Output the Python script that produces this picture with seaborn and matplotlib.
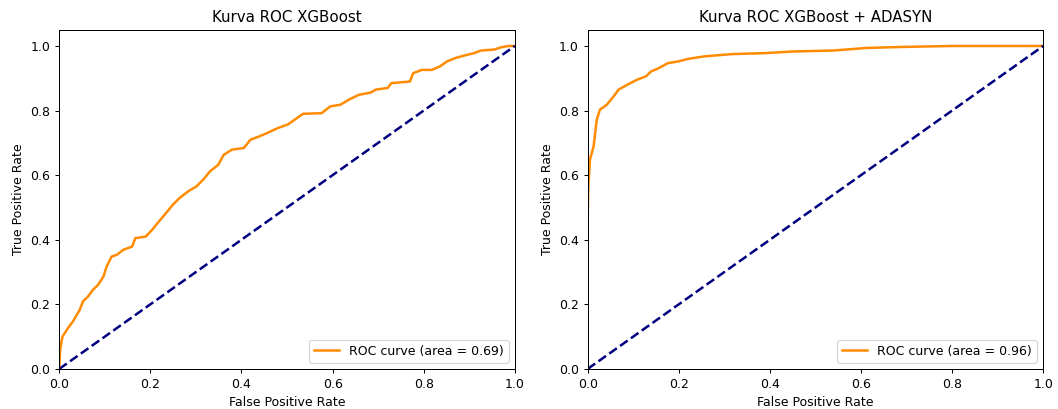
import matplotlib
matplotlib.use("Agg")
import matplotlib.pyplot as plt
import seaborn as sns
import pandas as pd

# Left panel: XGBoost
fpr_xgb = [0.0, 0.002, 0.007, 0.019, 0.03, 0.045, 0.052, 0.063, 0.074, 0.085, 0.097, 0.104,
           0.115, 0.126, 0.141, 0.16, 0.167, 0.19, 0.204, 0.219, 0.234, 0.249, 0.264, 0.283,
           0.301, 0.316, 0.331, 0.349, 0.361, 0.379, 0.405, 0.42, 0.439, 0.457, 0.48, 0.502,
           0.517, 0.535, 0.576, 0.595, 0.617, 0.636, 0.658, 0.684, 0.695, 0.721, 0.729, 0.77,
           0.777, 0.796, 0.818, 0.836, 0.851, 0.87, 0.888, 0.911, 0.926, 0.955, 0.97, 0.985, 1.0]
tpr_xgb = [0.0, 0.06, 0.10, 0.126, 0.147, 0.183, 0.209, 0.224, 0.245, 0.26, 0.286, 0.317,
           0.348, 0.353, 0.369, 0.379, 0.405, 0.41, 0.431, 0.457, 0.482, 0.508, 0.529, 0.55,
           0.565, 0.586, 0.612, 0.632, 0.663, 0.679, 0.684, 0.71, 0.72, 0.731, 0.746, 0.757,
           0.772, 0.79, 0.792, 0.813, 0.818, 0.834, 0.849, 0.856, 0.865, 0.87, 0.885, 0.89,
           0.916, 0.926, 0.926, 0.937, 0.952, 0.963, 0.97, 0.978, 0.986, 0.989, 0.996, 1.0, 1.0]
auc_xgb = 0.69

# Right panel: XGBoost + ADASYN
fpr_ada = [0.0, 0.0, 0.0015, 0.003, 0.005, 0.013, 0.02, 0.027, 0.042, 0.057, 0.068, 0.087,
           0.109, 0.128, 0.139, 0.157, 0.176, 0.198, 0.22, 0.257, 0.317, 0.39, 0.45, 0.539,
           0.613, 0.687, 0.798, 1.0]
tpr_ada = [0.0, 0.47, 0.565, 0.60, 0.648, 0.689, 0.772, 0.803, 0.818, 0.844, 0.865, 0.88,
           0.896, 0.906, 0.921, 0.932, 0.947, 0.952, 0.96, 0.968, 0.975, 0.978, 0.983, 0.986,
           0.994, 0.997, 1.0, 1.0]
auc_ada = 0.96

diag = [0.0, 1.0]

titles = ["Kurva ROC XGBoost", "Kurva ROC XGBoost + ADASYN"]

DPI = 90
fig, axes = plt.subplots(1, 2, figsize=(1058 / DPI, 409 / DPI), dpi=DPI)
fig.subplots_adjust(left=0.056, right=0.986, bottom=0.098, top=0.927, wspace=0.16)

for ax, fpr, tpr, auc, title in zip(axes, [fpr_xgb, fpr_ada], [tpr_xgb, tpr_ada],
                                    [auc_xgb, auc_ada], titles):
    df = pd.DataFrame({"fpr": fpr, "tpr": tpr})
    sns.lineplot(data=df, x="fpr", y="tpr", ax=ax, sort=False, estimator=None,
                 color="darkorange", lw=2, label=f"ROC curve (area = {auc:.2f})")
    sns.lineplot(x=diag, y=diag, ax=ax, color="navy", lw=2, linestyle="--")
    ax.set_xlim(0.0, 1.0)
    ax.set_ylim(0.0, 1.05)
    ax.set_xlabel("False Positive Rate")
    ax.set_ylabel("True Positive Rate")
    ax.set_title(title)
    ax.legend(loc="lower right")

fig.savefig("out.png", dpi=DPI)
